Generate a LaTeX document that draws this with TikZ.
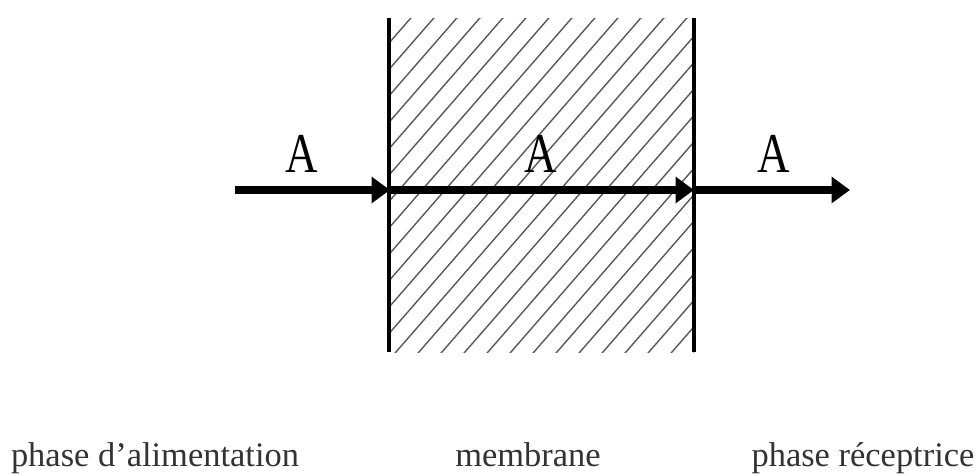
\documentclass[tikz,border=0pt]{standalone}
\usepackage{fontspec}
\setmainfont{Liberation Serif}
\usetikzlibrary{arrows.meta,positioning}
\tikzset{
  flux/.style={-{Triangle[length=13pt,width=18pt]}, line width=5pt},
  wall/.style={line width=2.2pt},
  hatch/.style={line width=1pt, draw=black!65},
  specie/.style={font=\fontsize{32}{38}\selectfont, inner sep=0pt},
  phaselabel/.style={font=\fontsize{24.5}{28}\selectfont, text=black!80, inner sep=0pt, anchor=base}
}
\begin{document}
\begin{tikzpicture}[x=0.025cm,y=-0.025cm]
  \useasboundingbox (0,0) rectangle (978,475);
  % membrane box
  \coordinate (mtl) at (389,18);
  \coordinate (mbr) at (694,352);
  \begin{scope}
    \clip (mtl) rectangle (mbr);
    \foreach \i in {-14,...,14}
      \draw[hatch] (389+23*\i,360) -- ++(310,-356);
  \end{scope}
  \draw[wall] (mtl) -- (mtl|-mbr);
  \draw[wall] (mbr|-mtl) -- (mbr);

  % transport of A
  \coordinate (in) at (235,190);
  \coordinate (wl) at (390,190);
  \coordinate (wr) at (694,190);
  \coordinate (out) at (850,190);
  \draw[flux] (in) -- (wl);
  \draw[flux] (wl) -- (wr);
  \draw[flux] (wr) -- (out);
  \node[specie] (afeed) at (302,154) {\scalebox{1}[1.25]{A}};
  \node[specie] (amem) at (541,154) {\scalebox{1}[1.25]{A}};
  \node[specie] (arec) at (774,154) {\scalebox{1}[1.25]{A}};

  % phases
  \node[phaselabel] (feed) at (155,466) {phase d’alimentation};
  \node[phaselabel] (memb) at (528,466) {membrane};
  \node[phaselabel] (recv) at (863,466) {phase réceptrice};
\end{tikzpicture}
\end{document}
